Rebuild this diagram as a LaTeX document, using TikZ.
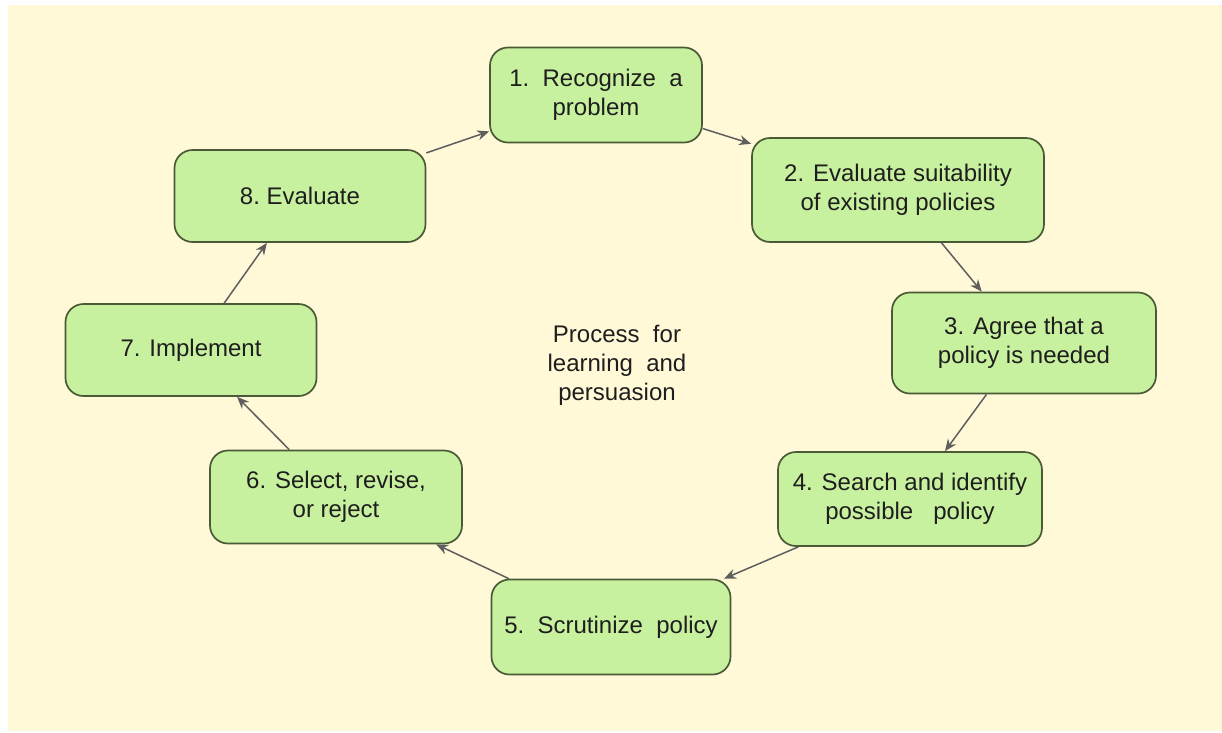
\documentclass[tikz,border=0pt]{standalone}
\usepackage{fontspec}
\setmainfont{Liberation Sans}
\usetikzlibrary{arrows.meta}
\definecolor{bgyellow}{HTML}{FFF9D8}
\definecolor{boxgreen}{HTML}{C8F19F}
\definecolor{boxline}{HTML}{4A5A36}
\definecolor{arrowgray}{HTML}{5E5E5E}
\definecolor{txt}{HTML}{1E1E1E}
\begin{document}
\begin{tikzpicture}[x=1pt,y=-1pt,
  stepbox/.style={draw=boxline, line width=1.7pt, fill=boxgreen, rounded corners=18pt,
    align=center, text=txt, inner sep=0pt, font=\fontsize{24}{29}\selectfont},
  flow/.style={draw=arrowgray, line width=1.5pt, -{Stealth[length=12pt,width=10pt]}},
  label/.style={align=center, text=txt, font=\fontsize{24}{29}\selectfont}]
\useasboundingbox (0,0) rectangle (1222,732);
\fill[white] (0,0) rectangle (1222,732);
\fill[bgyellow] (8,5) rectangle (1222,731);
\node[stepbox, minimum width=212pt, minimum height=95pt] (n1) at (596,95) {1.\ \ Recognize\ \ a\\problem};
\node[stepbox, minimum width=292pt, minimum height=104pt] (n2) at (898,190) {2. Evaluate suitability\\of existing policies};
\node[stepbox, minimum width=264pt, minimum height=101pt] (n3) at (1024,343) {3. Agree that a\\policy is needed};
\node[stepbox, minimum width=264pt, minimum height=94pt] (n4) at (910,499) {4. Search and identify\\possible\ \ \ policy};
\node[stepbox, minimum width=239pt, minimum height=95pt] (n5) at (611,627) {5.\ \ Scrutinize\ \ policy};
\node[stepbox, minimum width=252pt, minimum height=93pt] (n6) at (336,497) {6. Select, revise,\\or reject};
\node[stepbox, minimum width=251pt, minimum height=92pt] (n7) at (191,350) {7. Implement};
\node[stepbox, minimum width=251pt, minimum height=92pt] (n8) at (300,196) {8.\ Evaluate};
\node[label] (center) at (617,365) {Process\ \ for\\learning\ \ and\\persuasion};
\draw[flow] (n1) -- (n2);
\draw[flow] (n2) -- (n3);
\draw[flow] (n3) -- (n4);
\draw[flow] (n4) -- (n5);
\draw[flow] (n5) -- (n6);
\draw[flow] (n6) -- (n7);
\draw[flow] (n7) -- (n8);
\draw[flow] (n8) -- (n1);
\end{tikzpicture}
\end{document}
